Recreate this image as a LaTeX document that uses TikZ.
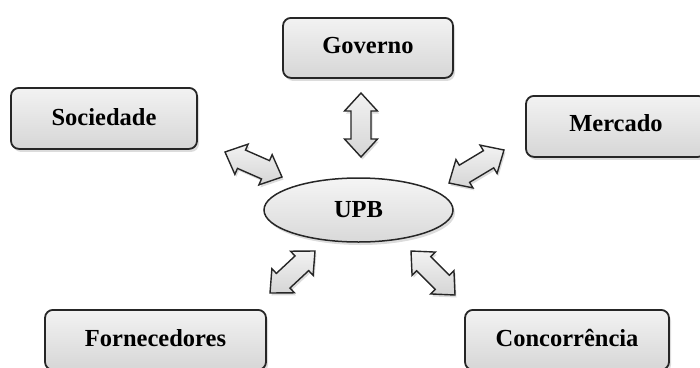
\documentclass[tikz,border=0pt]{standalone}
\usepackage{fontspec}
\setmainfont{Liberation Serif}
\usetikzlibrary{calc,shadows,shapes.geometric}

% double-headed block arrow between two named points
\newcommand\bidir[2]{%
  \draw[blockarrow]
    (#1)
    -- ($(#1)!\arrhead!(#2)!\arrwing!90:(#2)$)
    -- ($(#1)!\arrhead!(#2)!\arrshaft!90:(#2)$)
    -- ($(#2)!\arrhead!(#1)!\arrshaft!-90:(#1)$)
    -- ($(#2)!\arrhead!(#1)!\arrwing!-90:(#1)$)
    -- (#2)
    -- ($(#2)!\arrhead!(#1)!\arrwing!90:(#1)$)
    -- ($(#2)!\arrhead!(#1)!\arrshaft!90:(#1)$)
    -- ($(#1)!\arrhead!(#2)!\arrshaft!-90:(#2)$)
    -- ($(#1)!\arrhead!(#2)!\arrwing!-90:(#2)$)
    -- cycle;}
\newcommand\arrhead{18pt}
\newcommand\arrwing{16.5pt}
\newcommand\arrshaft{10pt}

\tikzset{
  box/.style={draw=black!85, line width=1.8pt, rounded corners=8pt,
    top color=gray!10, bottom color=gray!32,
    drop shadow={opacity=0.28, shadow xshift=2pt, shadow yshift=-3pt},
    anchor=north, inner xsep=0pt, inner ysep=0pt,
    font=\fontsize{24.5}{28}\selectfont\bfseries},
  hub/.style={ellipse, draw=black!85, line width=1.5pt,
    top color=gray!8, bottom color=gray!30,
    drop shadow={opacity=0.28, shadow xshift=2pt, shadow yshift=-3pt},
    minimum width=189pt, minimum height=64pt, inner sep=0pt,
    font=\fontsize{24.5}{28}\selectfont\bfseries},
  blockarrow/.style={draw=black!85, line width=1.4pt, line join=miter,
    top color=gray!10, bottom color=gray!33,
    drop shadow={opacity=0.28, shadow xshift=1.5pt, shadow yshift=-2.5pt}}
}

\begin{document}
\begin{tikzpicture}[x=1pt, y=-1pt]
\useasboundingbox (0,0) rectangle (700,367);
\clip (0,0) rectangle (700,367);

% outer boxes (text height = top gap + cap, text depth = bottom gap)
\node[box, minimum width=170pt, text height=36pt, text depth=24pt]
  (gov) at (368,17) {Governo};
\node[box, minimum width=186pt, text height=38pt, text depth=23pt]
  (soc) at (104,87) {Sociedade};
\node[box, minimum width=180pt, text height=36pt, text depth=25pt]
  (mer) at (616,95) {Mercado};
\node[box, minimum width=221pt, text height=37pt, text depth=23pt]
  (for) at (155.5,309) {Fornecedores};
\node[box, minimum width=204pt, text height=37pt, text depth=23pt]
  (con) at (567,309) {Concorrência};

% centre
\node[hub] (upb) at (358.5,210) {UPB};

% arrow end points
\coordinate (g1) at (361,93);   \coordinate (g2) at (361,157);
\coordinate (s1) at (225,152);  \coordinate (s2) at (282,177);
\coordinate (m1) at (449,183);  \coordinate (m2) at (504,150);
\coordinate (f1) at (270,293);  \coordinate (f2) at (315,251);
\coordinate (c1) at (411,251);  \coordinate (c2) at (455,295);

\bidir{g1}{g2}
\bidir{s1}{s2}
\bidir{m1}{m2}
\bidir{f1}{f2}
\bidir{c1}{c2}
\end{tikzpicture}
\end{document}
